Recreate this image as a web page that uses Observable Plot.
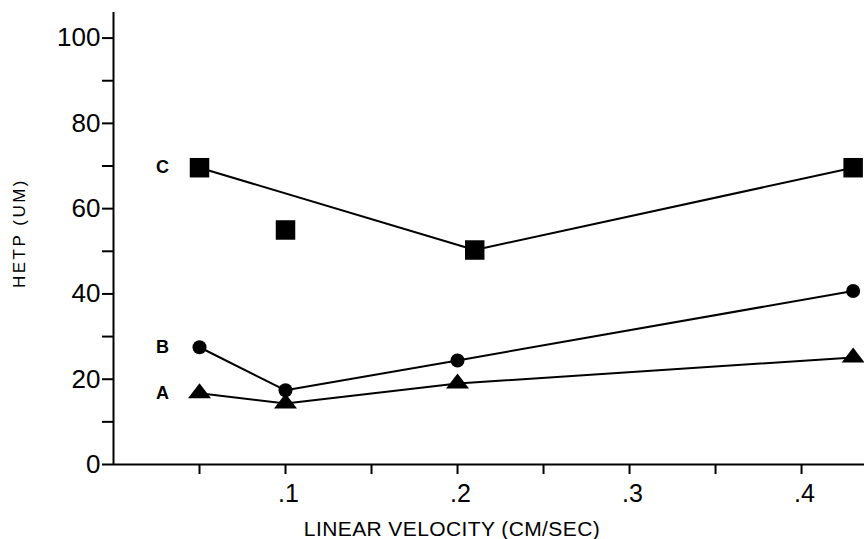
<!DOCTYPE html>
<html><head><meta charset="utf-8">
<script src="https://cdn.jsdelivr.net/npm/d3@7"></script>
<script src="https://cdn.jsdelivr.net/npm/@observablehq/plot@0.6"></script>
<style>body{margin:0;background:#fff} svg{display:block}</style>
</head><body><div id="chart"></div>
<script>
// Data
const seriesNames = ["A", "B", "C"];
const seriesA_x = [0.05, 0.1, 0.2, 0.43];
const seriesA_y = [16.7, 14.3, 19.0, 25.1];
const seriesB_x = [0.05, 0.1, 0.2, 0.43];
const seriesB_y = [27.5, 17.4, 24.4, 40.7];
const seriesC_x = [0.05, 0.1, 0.21, 0.43];
const seriesC_y = [69.6, 55.0, 50.3, 69.6];
const seriesC_connected = [true, false, true, true];

const yTicks = [0, 20, 40, 60, 80, 100];
const yMinorTicks = [10, 30, 50, 70, 90];
const xTicks = [0.1, 0.2, 0.3, 0.4];
const xMinorTicks = [0.05, 0.15, 0.25, 0.35];
const xLabel = "LINEAR VELOCITY (CM/SEC)";
const yLabel = "HETP (UM)";

const toRows = (name, xs, ys, conn) => xs.map((x, i) => ({series: name, x, y: ys[i], connected: conn ? conn[i] : true}));
const rowsA = toRows(seriesNames[0], seriesA_x, seriesA_y);
const rowsB = toRows(seriesNames[1], seriesB_x, seriesB_y);
const rowsC = toRows(seriesNames[2], seriesC_x, seriesC_y, seriesC_connected);
const firstPoints = [rowsA[0], rowsB[0], rowsC[0]];

const flatTriangle = {
  draw(ctx, size) {
    const r = Math.sqrt(size / Math.PI);
    ctx.moveTo(0, -r);
    ctx.lineTo(1.15 * r, 0.5 * r);
    ctx.lineTo(-1.15 * r, 0.5 * r);
    ctx.closePath();
  }
};

const fmtX = d => String(d).replace(/^0/, "");
const FONT = "'Liberation Sans', Arial, sans-serif";

const chart = Plot.plot({
  width: 864,
  height: 539,
  marginLeft: 113,
  marginRight: 0,
  marginTop: 12,
  marginBottom: 75,
  style: {fontFamily: FONT, background: "#fff", color: "#000"},
  x: {domain: [0, 0.4366], axis: null},
  y: {domain: [0, 106], axis: null},
  marks: [
    Plot.ruleX([0], {y1: 0, y2: 106, strokeWidth: 2}),
    Plot.ruleY([0], {x1: 0, x2: 0.4366, strokeWidth: 2}),
    Plot.axisY(yTicks, {tickSize: 11, tickPadding: 2, fontSize: 26, tickFormat: d => String(d), strokeWidth: 2, label: null}),
    Plot.axisY(yMinorTicks, {tickSize: 11, tickFormat: () => "", strokeWidth: 2, label: null}),
    Plot.axisX(xTicks, {tickSize: 10, tickFormat: () => "", strokeWidth: 2, label: null}),
    Plot.axisX(xMinorTicks, {tickSize: 10, tickFormat: () => "", strokeWidth: 2, label: null}),
    Plot.text(xTicks, {x: d => d, y: () => 0, dy: 29, dx: 3, fontSize: 25, text: fmtX}),
    Plot.line(rowsC.filter(d => d.connected), {x: "x", y: "y", strokeWidth: 2, stroke: "#000"}),
    Plot.line(rowsB, {x: "x", y: "y", strokeWidth: 2, stroke: "#000"}),
    Plot.line(rowsA, {x: "x", y: "y", strokeWidth: 2, stroke: "#000"}),
    Plot.dot(rowsC, {x: "x", y: "y", symbol: "square", r: 11, fill: "#000"}),
    Plot.dot(rowsB, {x: "x", y: "y", symbol: "circle", r: 7, fill: "#000"}),
    Plot.dot(rowsA, {x: "x", y: "y", symbol: flatTriangle, r: 10, fill: "#000"}),
    Plot.text(firstPoints, {x: "x", y: "y", text: "series", dx: -37, fontSize: 18, fontWeight: "bold"})
  ]
});
document.getElementById("chart").appendChild(chart);

const svg = d3.select(chart);
// y axis title (rotated)
svg.append("text")
  .attr("transform", "translate(21,233) rotate(-90)")
  .attr("text-anchor", "middle")
  .attr("dominant-baseline", "middle")
  .attr("font-size", 17)
  .attr("letter-spacing", 2.5)
  .attr("font-family", FONT)
  .text(yLabel);
// x axis title
svg.append("text")
  .attr("x", 452)
  .attr("y", 536)
  .attr("text-anchor", "middle")
  .attr("font-size", 21)
  .attr("letter-spacing", 0.4)
  .attr("font-family", FONT)
  .text(xLabel);
</script>
</body></html>
